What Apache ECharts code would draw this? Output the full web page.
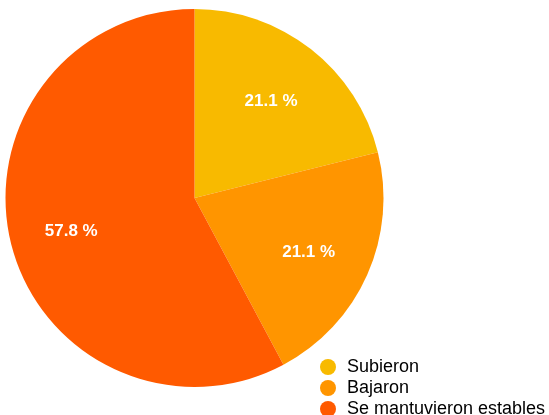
<!DOCTYPE html>
<html>
<head>
<meta charset="utf-8">
<script src="https://cdn.jsdelivr.net/npm/echarts@6/dist/echarts.min.js"></script>
<style>
  html, body { margin: 0; padding: 0; background: #fff; }
  #chart { width: 549px; height: 415px; }
</style>
</head>
<body>
<div id="chart"></div>
<script>
// Share of answers per category (percent)
const categories = ['Subieron', 'Bajaron', 'Se mantuvieron estables'];
const shares = [21.1, 21.1, 57.8];
const colors = ['#F8BA00', '#FF9500', '#FF5A00'];

const pieData = categories.map((name, i) => ({ name, value: shares[i], itemStyle: { color: colors[i] } }));

const chart = echarts.init(document.getElementById('chart'), null, { renderer: 'canvas' });
const center = [194.5, 198];
const radius = 189;

chart.setOption({
  animation: false,
  legend: {
    orient: 'vertical',
    left: 320,
    top: 358,
    height: 80,
    padding: 0,
    icon: 'circle',
    itemWidth: 16,
    itemHeight: 16,
    itemGap: 3,
    data: categories,
    textStyle: {
      fontFamily: 'Liberation Sans, Arial, sans-serif',
      fontSize: 18,
      lineHeight: 16,
      color: '#000',
      padding: [0, 0, 0, 6]
    }
  },
  series: [
    {
      type: 'pie',
      center: center,
      radius: [0, radius],
      startAngle: 90,
      clockwise: true,
      silent: true,
      label: { show: false },
      labelLine: { show: false },
      data: pieData
    },
    {
      // transparent twin ring that places the percentage labels further out
      type: 'pie',
      center: center,
      radius: [0, 246],
      startAngle: 90,
      clockwise: true,
      silent: true,
      itemStyle: { color: 'rgba(0,0,0,0)' },
      label: {
        show: true,
        position: 'inside',
        offset: [-1, 3],
        color: '#fff',
        fontFamily: 'Liberation Sans, Arial, sans-serif',
        fontSize: 17,
        fontWeight: 'bold',
        formatter: p => p.value.toFixed(1) + ' %'
      },
      labelLine: { show: false },
      data: categories.map((name, i) => ({ name, value: shares[i] }))
    }
  ]
});
</script>
</body>
</html>
